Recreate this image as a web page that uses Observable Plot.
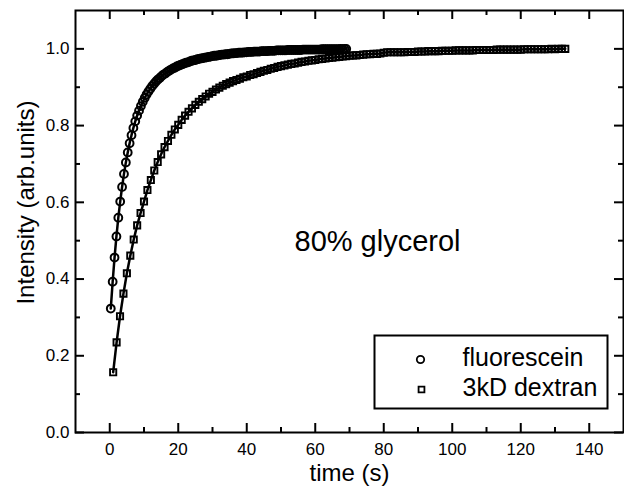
<!DOCTYPE html>
<html><head><meta charset="utf-8">
<script src="https://cdn.jsdelivr.net/npm/d3@7"></script>
<script src="https://cdn.jsdelivr.net/npm/@observablehq/plot@0.6"></script>
<style>
body{margin:0;background:#fff}
#chart svg{display:block}
</style>
</head><body><div id="chart"></div>
<script>
// ---------------- data ----------------
const seriesNames = ["fluorescein", "3kD dextran"];

const fluorTime = [0.3,0.85,1.4,1.95,2.5,3.05,3.6,4.15,4.7,5.25,5.8,6.35,6.9,7.45,8,8.55,9.1,9.65,10.2,10.75,
11.3,11.85,12.4,12.95,13.5,14.05,14.6,15.15,15.7,16.25,16.8,17.35,17.9,18.45,19,19.55,20.1,20.65,21.2,21.75,
22.3,22.85,23.4,23.95,24.5,25.05,25.6,26.15,26.7,27.25,27.8,28.35,28.9,29.45,30,30.55,31.1,31.65,32.2,32.75,
33.3,33.85,34.4,34.95,35.5,36.05,36.6,37.15,37.7,38.25,38.8,39.35,39.9,40.45,41,41.55,42.1,42.65,43.2,43.75,
44.3,44.85,45.4,45.95,46.5,47.05,47.6,48.15,48.7,49.25,49.8,50.35,50.9,51.45,52,52.55,53.1,53.65,54.2,54.75,
55.3,55.85,56.4,56.95,57.5,58.05,58.6,59.15,59.7,60.25,60.8,61.35,61.9,62.45,63,63.55,64.1,64.65,65.2,65.75,
66.3,66.85,67.4,67.95,68.5,69.05];
const fluorIntensity = [0.323,0.393,0.456,0.511,0.560,0.602,0.640,0.674,0.704,0.730,
0.754,0.775,0.794,0.811,0.826,0.839,0.851,0.862,0.872,0.881,
0.889,0.896,0.903,0.909,0.915,0.920,0.924,0.929,0.933,0.936,
0.940,0.943,0.946,0.949,0.951,0.954,0.956,0.958,0.960,0.962,
0.964,0.965,0.967,0.969,0.970,0.971,0.973,0.974,0.975,0.976,
0.977,0.978,0.979,0.980,0.981,0.982,0.982,0.983,0.984,0.985,
0.985,0.986,0.986,0.987,0.988,0.988,0.989,0.989,0.990,0.990,
0.990,0.991,0.991,0.992,0.992,0.992,0.993,0.993,0.993,0.993,
0.994,0.994,0.994,0.994,0.995,0.995,0.995,0.995,0.996,0.996,
0.996,0.996,0.996,0.996,0.997,0.997,0.997,0.997,0.997,0.997,
0.997,0.997,0.998,0.998,0.998,0.998,0.998,0.998,0.998,0.998,
0.998,0.998,0.999,0.999,0.999,0.999,0.999,0.999,0.999,0.999,
0.999,0.999,1.000,0.999,1.000,1.000];

const dextranTime = [1,2,3,4,5,6,7,8,9,10,11,12,13,14,15,16,17,18,19,20,
21,22,23,24,25,26,27,28,29,30,31,32,33,34,35,36,37,38,39,40,
41,42,43,44,45,46,47,48,49,50,51,52,53,54,55,56,57,58,59,60,
61,62,63,64,65,66,67,68,69,70,71,72,73,74,75,76,77,78,79,80,
81,82,83,84,85,86,87,88,89,90,91,92,93,94,95,96,97,98,99,100,
101,102,103,104,105,106,107,108,109,110,111,112,113,114,115,116,117,118,119,120,
121,122,123,124,125,126,127,128,129,130,131,132,133];
const dextranIntensity = [0.157,0.235,0.303,0.362,0.415,0.461,0.503,0.540,0.572,0.602,
0.632,0.658,0.683,0.705,0.725,0.744,0.760,0.776,0.790,0.802,
0.815,0.826,0.836,0.845,0.854,0.862,0.869,0.876,0.883,0.888,
0.894,0.899,0.904,0.908,0.912,0.916,0.919,0.922,0.926,0.928,
0.932,0.934,0.937,0.940,0.943,0.945,0.948,0.950,0.953,0.955,
0.957,0.959,0.961,0.962,0.964,0.966,0.967,0.969,0.970,0.971,
0.973,0.974,0.975,0.976,0.977,0.978,0.979,0.980,0.981,0.982,
0.983,0.983,0.984,0.985,0.986,0.986,0.987,0.987,0.988,0.990,
0.991,0.991,0.991,0.991,0.991,0.991,0.992,0.992,0.992,0.993,
0.993,0.993,0.994,0.994,0.994,0.994,0.995,0.995,0.995,0.995,
0.996,0.996,0.996,0.996,0.996,0.996,0.997,0.997,0.997,0.997,
0.997,0.997,0.998,0.998,0.998,0.998,0.998,0.998,0.998,0.998,
0.999,0.999,0.999,0.999,0.999,0.999,0.999,0.999,1.000,0.999,
1.000,1.000,1.000];

const xTickValues = [0,20,40,60,80,100,120,140];
const xMinorTicks = [10,30,50,70,90,110,130];
const yTickValues = [0,0.2,0.4,0.6,0.8,1.0];
const yMinorTicks = [0.1,0.3,0.5,0.7,0.9];
const xLabel = "time (s)";
const yLabel = "Intensity (arb.units)";
const annotation = "80% glycerol";

// ---------------- tables built from the arrays ----------------
const fluor = fluorTime.map((t, i) => ({t, v: fluorIntensity[i]}));
const dextran = dextranTime.map((t, i) => ({t, v: dextranIntensity[i]}));

const W = 624, H = 491;
const mL = 75, mR = 1, mT = 10, mB = 59;
const innerW = W - mL - mR, innerH = H - mT - mB;
const major = 9, minor = 5;
const font = "'Liberation Sans', Arial, Helvetica, sans-serif";

const chart = Plot.plot({
  width: W, height: H,
  marginLeft: mL, marginRight: mR, marginTop: mT, marginBottom: mB,
  style: {fontFamily: font, fontSize: "17px", color: "black", background: "white"},
  x: {domain: [-10, 150], axis: null},
  y: {domain: [0, 1.1], axis: null},
  marks: [
    // tick labels
    Plot.axisX({ticks: xTickValues, tickSize: 0, tickPadding: 10, tickFormat: d => String(d), label: null, fontSize: 17}),
    Plot.axisY({ticks: yTickValues, tickSize: 0, tickPadding: 6, tickFormat: d3.format(".1f"), label: null, fontSize: 17}),
    // inward ticks, all four sides
    Plot.tickX(xTickValues, {x: d => d, insetTop: innerH - major, stroke: "black", strokeWidth: 2}),
    Plot.tickX(xTickValues, {x: d => d, insetBottom: innerH - major, stroke: "black", strokeWidth: 2}),
    Plot.tickX(xMinorTicks, {x: d => d, insetTop: innerH - minor, stroke: "black", strokeWidth: 2}),
    Plot.tickX(xMinorTicks, {x: d => d, insetBottom: innerH - minor, stroke: "black", strokeWidth: 2}),
    Plot.tickY(yTickValues, {y: d => d, insetRight: innerW - major, stroke: "black", strokeWidth: 2}),
    Plot.tickY(yTickValues, {y: d => d, insetLeft: innerW - major, stroke: "black", strokeWidth: 2}),
    Plot.tickY(yMinorTicks, {y: d => d, insetRight: innerW - minor, stroke: "black", strokeWidth: 2}),
    Plot.tickY(yMinorTicks, {y: d => d, insetLeft: innerW - minor, stroke: "black", strokeWidth: 2}),
    // data
    Plot.line(fluor, {x: "t", y: "v", stroke: "black", strokeWidth: 2.5}),
    Plot.line(dextran, {x: "t", y: "v", stroke: "black", strokeWidth: 2.5}),
    Plot.dot(fluor, {x: "t", y: "v", r: 3.9, symbol: "circle", stroke: "black", strokeWidth: 2, fill: "none"}),
    Plot.dot(dextran, {x: "t", y: "v", r: 3.5, symbol: "square", stroke: "black", strokeWidth: 1.9, fill: "none"}),
    // annotation
    Plot.text([annotation], {frameAnchor: "top-left", dx: 294 - mL, dy: 250 - mT, textAnchor: "start", lineAnchor: "bottom", fontSize: 29, fill: "black"}),
    // legend
    Plot.frame({insetLeft: 374 - mL, insetTop: 335 - mT, insetRight: W - mR - 607, insetBottom: H - mB - 408, stroke: "black", strokeWidth: 2}),
    Plot.dot([seriesNames[0]], {frameAnchor: "top-left", dx: 420 - mL, dy: 359 - mT, r: 3.7, symbol: "circle", stroke: "black", strokeWidth: 1.8, fill: "none"}),
    Plot.dot([seriesNames[1]], {frameAnchor: "top-left", dx: 421 - mL, dy: 389 - mT, r: 3.3, symbol: "square", stroke: "black", strokeWidth: 1.8, fill: "none"}),
    Plot.text([seriesNames[0]], {frameAnchor: "top-left", dx: 462 - mL, dy: 365 - mT, textAnchor: "start", lineAnchor: "bottom", fontSize: 25, fill: "black"}),
    Plot.text([seriesNames[1]], {frameAnchor: "top-left", dx: 462 - mL, dy: 395 - mT, textAnchor: "start", lineAnchor: "bottom", fontSize: 25, fill: "black"}),
    // axis titles
    Plot.text([xLabel], {frameAnchor: "bottom", dy: 48, lineAnchor: "bottom", fontSize: 24, fill: "black"}),
    Plot.text([yLabel], {frameAnchor: "left", dx: -49, dy: -19, rotate: -90, textAnchor: "middle", fontSize: 24, fill: "black"}),
    // frame
    Plot.frame({stroke: "black", strokeWidth: 2})
  ]
});
document.getElementById("chart").append(chart);
</script>
</body></html>
